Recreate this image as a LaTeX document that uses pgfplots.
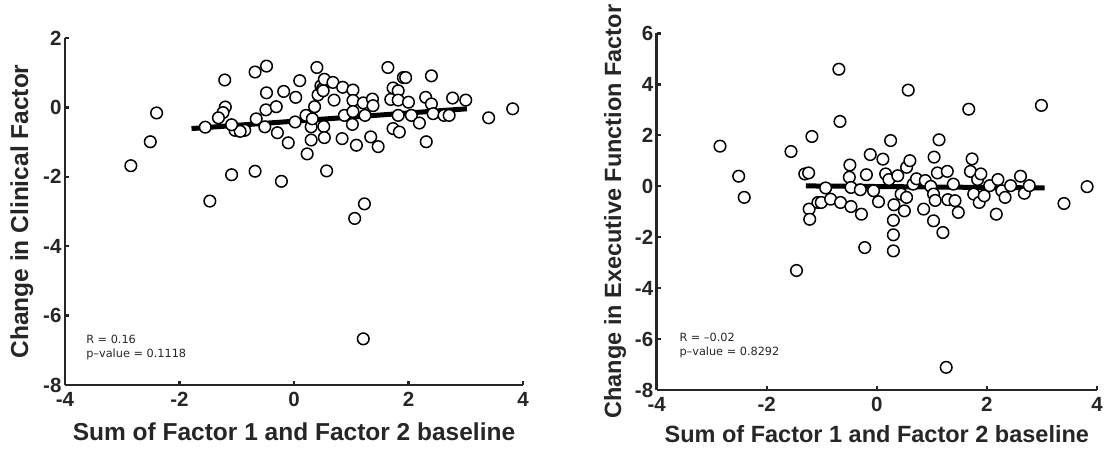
\documentclass[border=0pt]{standalone}
\usepackage{fontspec}
\setmainfont{Liberation Sans}
\newfontfamily\annfont{DejaVu Sans}
\usepackage{pgfplots}
\pgfplotsset{compat=1.18}
\definecolor{axcol}{HTML}{262626}
\pgfplotsset{mystyle/.style={
  scale only axis, anchor=south west,
  xmin=-4, xmax=4,
  axis x line=bottom, axis y line=left,
  axis line style={-, line width=2.5pt, color=axcol},
  every outer x axis line/.append style={-},
  every outer y axis line/.append style={-},
  tick align=inside, major tick length=4pt,
  tick style={line width=2.5pt, color=axcol},
  xtick={-4,-2,0,2,4}, xticklabels={{-4},{-2},{0},{2},{4}},
  ticklabel style={font=\fontsize{20.5}{20.5}\selectfont\bfseries, text=axcol},
  xticklabel style={yshift=-3.5pt},
  label style={font=\fontsize{24.5}{24.5}\selectfont\bfseries, text=axcol},
  xlabel style={at={(axis description cs:0.5,-0.135)}, anchor=center},
  ylabel style={at={(axis description cs:-0.094,0.5)}, anchor=center},
  clip=false,
}}
\begin{document}
\begin{tikzpicture}
\useasboundingbox (0,0) rectangle (1104pt,448pt);
\begin{axis}[mystyle, at={(65pt,63pt)}, width=458pt, height=347pt,
  ymin=-8, ymax=2, ytick={-8,-6,-4,-2,0,2}, yticklabels={{-8},{-6},{-4},{-2},{0},{2}},
  xlabel={Sum of Factor 1 and Factor 2 baseline},
  ylabel={Change in Clinical Factor}]
\addplot[only marks, mark=*, mark size=5.8pt, mark options={fill=white, draw=black, line width=1.5pt}] table {
x y
-2.85 -1.68
-2.51 -0.99
-2.40 -0.16
-1.47 -2.70
-1.55 -0.57
-1.21 0.79
-1.20 0.01
-1.24 -0.15
-1.32 -0.30
-1.09 -1.94
-1.03 -0.66
-0.86 -0.66
-0.94 -0.69
-1.09 -0.50
-0.68 1.02
-0.68 -1.84
-0.66 -0.33
-0.48 1.19
-0.48 0.42
-0.49 -0.07
-0.51 -0.56
-0.31 0.02
-0.29 -0.73
-0.22 -2.13
-0.18 0.46
-0.10 -1.02
0.03 0.29
0.02 -0.42
0.10 0.77
0.21 -0.23
0.23 -1.34
0.30 -0.94
0.30 -0.56
0.32 -0.33
0.36 0.02
0.40 1.15
0.42 0.36
0.47 0.62
0.50 0.54
0.51 0.48
0.53 0.81
0.52 -0.55
0.53 -0.87
0.57 -1.83
0.68 0.72
0.70 0.21
0.84 -0.90
0.85 0.58
0.88 -0.23
1.03 0.50
1.03 0.20
1.03 -0.12
1.02 -0.49
1.06 -3.20
1.09 -1.09
1.21 -6.67
1.23 -2.78
1.24 -0.23
1.21 0.13
1.37 0.24
1.38 0.05
1.34 -0.85
1.47 -1.13
1.64 1.15
1.69 0.23
1.73 0.56
1.73 -0.61
1.82 0.48
1.82 0.21
1.84 -0.71
1.82 -0.23
1.91 0.86
1.95 0.86
2.00 0.15
2.05 -0.23
2.19 -0.45
2.30 0.29
2.31 -0.99
2.40 0.91
2.40 0.10
2.43 -0.18
2.62 -0.23
2.71 -0.23
2.77 0.27
3.00 0.21
3.40 -0.30
3.82 -0.04
};
\addplot[black, line width=5pt, no marks] coordinates {(-1.79,-0.61) (3.02,-0.04)};
\node[anchor=west, align=left, font=\annfont\fontsize{11.3}{14}\selectfont, text=axcol] at (axis cs:-3.69,-6.92) {R = 0.16\\p\textendash value = 0.1118};
\end{axis}
\begin{axis}[mystyle, at={(656.7pt,58pt)}, width=440.3pt, height=356.7pt,
  ymin=-8, ymax=6, ytick={-8,-6,-4,-2,0,2,4,6}, yticklabels={{-8},{-6},{-4},{-2},{0},{2},{4},{6}},
  xlabel={Sum of Factor 1 and Factor 2 baseline},
  ylabel={Change in Executive Function Factor},
  label style={font=\fontsize{23.5}{23.5}\selectfont\bfseries, text=axcol},
  xlabel style={at={(axis description cs:0.5,-0.124)}},
  ylabel style={at={(axis description cs:-0.0947,0.5)}}]
\addplot[only marks, mark=*, mark size=5.8pt, mark options={fill=white, draw=black, line width=1.5pt}] table {
x y
-2.85 1.57
-2.51 0.39
-2.41 -0.44
-1.56 1.36
-1.46 -3.31
-1.31 0.48
-1.24 0.52
-1.18 1.95
-1.23 -0.90
-1.22 -1.30
-1.07 -0.64
-1.01 -0.64
-0.93 -0.07
-0.84 -0.51
-0.69 4.59
-0.67 2.54
-0.66 -0.64
-0.49 0.83
-0.50 0.35
-0.47 -0.05
-0.47 -0.80
-0.30 -0.14
-0.28 -1.10
-0.22 -2.41
-0.19 0.45
-0.12 1.24
-0.06 -0.18
0.03 -0.61
0.11 1.06
0.16 0.48
0.22 0.26
0.25 1.79
0.31 -0.73
0.30 -1.34
0.30 -1.91
0.30 -2.54
0.38 0.41
0.44 -0.31
0.54 0.74
0.54 -0.44
0.50 -0.97
0.57 3.77
0.60 1.00
0.66 0.08
0.72 0.29
0.85 -0.90
0.88 0.22
0.98 -0.01
1.04 1.14
1.03 -0.31
1.06 -0.56
1.03 -1.36
1.10 0.52
1.13 1.82
1.20 -1.82
1.28 0.58
1.29 -0.53
1.26 -7.11
1.39 0.08
1.42 -0.57
1.48 -1.03
1.67 3.02
1.70 0.58
1.73 1.07
1.76 -0.31
1.83 0.26
1.86 -0.64
1.89 0.48
1.95 -0.38
2.05 0.02
2.17 -1.10
2.20 0.26
2.27 -0.18
2.33 -0.44
2.43 0.02
2.61 0.39
2.68 -0.28
2.77 0.02
2.99 3.17
3.40 -0.68
3.82 -0.02
};
\addplot[black, line width=5pt, no marks] coordinates {(-1.29,0.01) (3.05,-0.07)};
\node[anchor=west, align=left, font=\annfont\fontsize{11.3}{14}\selectfont, text=axcol] at (axis cs:-3.65,-6.27) {R = \textendash 0.02\\p\textendash value = 0.8292};
\end{axis}
\end{tikzpicture}
\end{document}
